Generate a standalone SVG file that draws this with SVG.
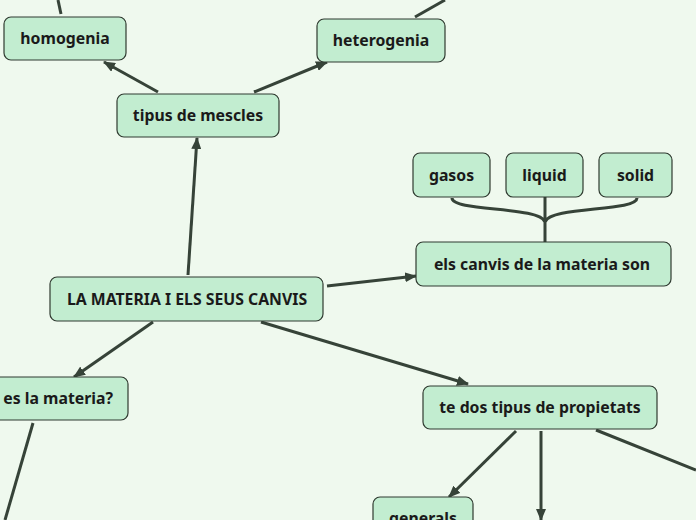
<svg xmlns="http://www.w3.org/2000/svg" width="696" height="520" viewBox="0 0 696 520">
<defs>
<style>
.n rect{fill:#c2edd0;stroke:#2f3a30;stroke-width:1.2}
.n text{font-family:"Noto Sans",sans-serif;font-weight:bold;font-size:15.8px;fill:#1a1a1a;text-anchor:middle}
.c path,.c line{stroke:#364338;stroke-width:3;fill:none}
</style>
<marker id="a" viewBox="0 0 12 10" refX="11" refY="5" markerWidth="12" markerHeight="10" markerUnits="userSpaceOnUse" orient="auto">
<path d="M0,0 L12,5 L0,10 Z" fill="#364338"/>
</marker>
</defs>
<rect width="696" height="520" fill="#eff9ee"/>
<g class="c">
<line x1="61" y1="14" x2="58" y2="0"/>
<line x1="415" y1="17" x2="445" y2="0"/>
<line x1="158" y1="92" x2="104" y2="62" marker-end="url(#a)"/>
<line x1="254" y1="92" x2="327" y2="62" marker-end="url(#a)"/>
<line x1="188" y1="275" x2="197" y2="138" marker-end="url(#a)"/>
<line x1="327" y1="286" x2="416" y2="276" marker-end="url(#a)"/>
<line x1="153" y1="322" x2="74" y2="377" marker-end="url(#a)"/>
<line x1="261" y1="322" x2="468" y2="384" marker-end="url(#a)"/>
<line x1="33" y1="423" x2="5" y2="520"/>
<line x1="516" y1="431" x2="449" y2="497" marker-end="url(#a)"/>
<line x1="541" y1="431" x2="541" y2="520" marker-end="url(#a)"/>
<line x1="596" y1="430" x2="696" y2="470"/>
<path d="M452,198 C452,212 540,206 545,222 M637,198 C637,212 550,206 545,222 M545,197 L545,242"/>
</g>
<g id="homogenia" class="n"><rect x="4" y="17" width="122" height="43" rx="7"/><text x="65" y="44">homogenia</text></g>
<g id="heterogenia" class="n"><rect x="317" y="19" width="128" height="43" rx="7"/><text x="381" y="46">heterogenia</text></g>
<g id="tipus" class="n"><rect x="117" y="94" width="162" height="43" rx="7"/><text x="198" y="121">tipus de mescles</text></g>
<g id="gasos" class="n"><rect x="413" y="153" width="77" height="44" rx="7"/><text x="451.5" y="181">gasos</text></g>
<g id="liquid" class="n"><rect x="506" y="153" width="77" height="44" rx="7"/><text x="544.5" y="181">liquid</text></g>
<g id="solid" class="n"><rect x="599" y="153" width="73" height="44" rx="7"/><text x="635.5" y="181">solid</text></g>
<g id="canvis" class="n"><rect x="416" y="242" width="255" height="44" rx="7"/><text x="542" y="270">els canvis de la materia son</text></g>
<g id="main" class="n"><rect x="50" y="277" width="273" height="44" rx="7"/><text x="187" y="305">LA MATERIA I ELS SEUS CANVIS</text></g>
<g id="que" class="n"><rect x="-60" y="377" width="188" height="43" rx="7"/><text x="113" y="404" style="text-anchor:end">es la materia?</text></g>
<g id="propietats" class="n"><rect x="423" y="386" width="234" height="43" rx="7"/><text x="540" y="413">te dos tipus de propietats</text></g>
<g id="generals" class="n"><rect x="373" y="497" width="100" height="40" rx="7"/><text x="423" y="524">generals</text></g>
</svg>
